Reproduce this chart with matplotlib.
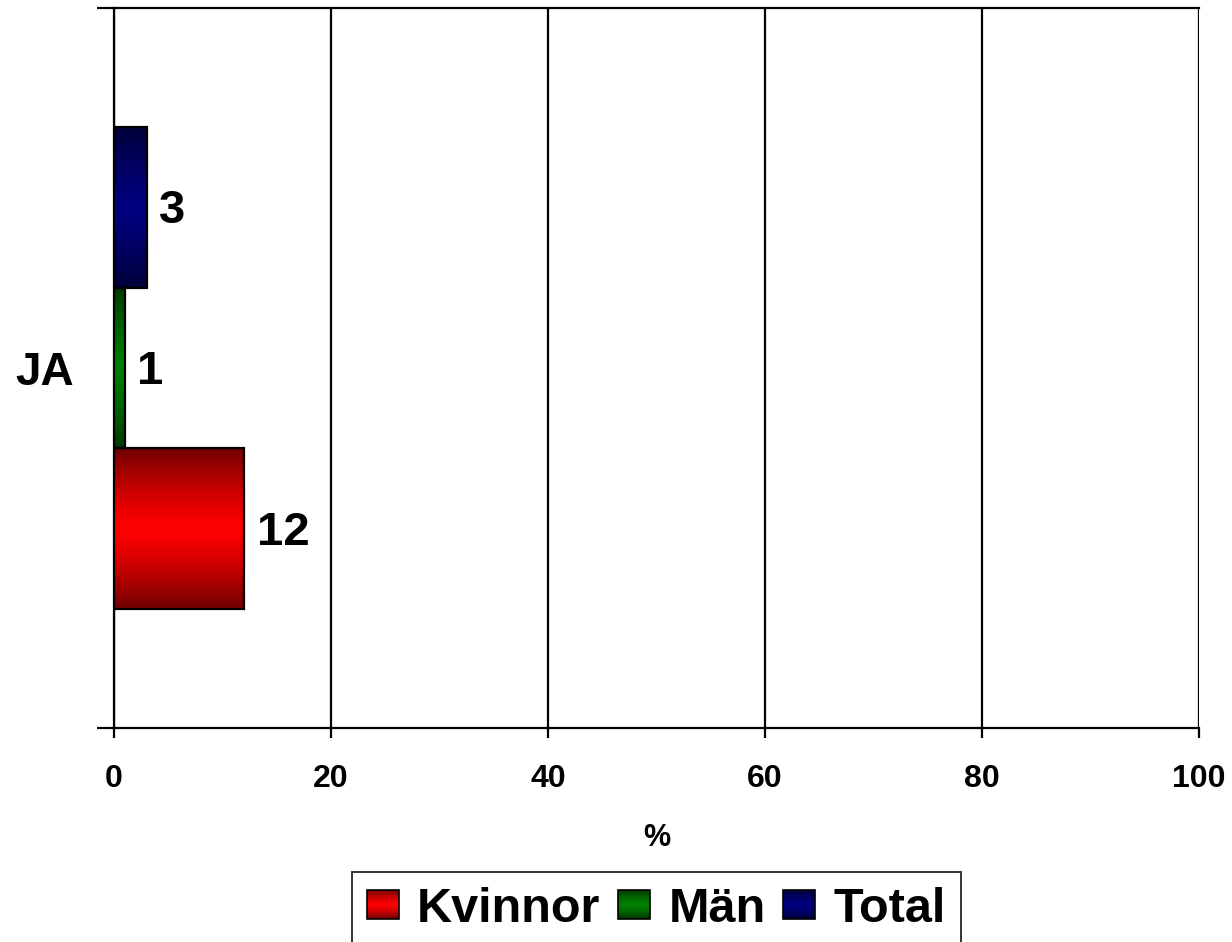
import numpy as np
import matplotlib
matplotlib.use("Agg")
import matplotlib.pyplot as plt
from matplotlib.patches import Rectangle
from matplotlib.legend_handler import HandlerBase

plt.rcParams['font.family'] = ['Liberation Sans', 'DejaVu Sans']
plt.rcParams['font.weight'] = 'bold'

# data
category = "JA"
series = ["Kvinnor", "Män", "Total"]
values = [12, 1, 3]
base_colors = [(1.0, 0.0, 0.0), (0.0, 0.5, 0.0), (0.0, 0.0, 0.5)]
xticks = [0, 20, 40, 60, 80, 100]
xlabel = "%"


def shade(t):
    # dark at the bar edges, full colour through the middle
    return 1.0 - 0.55 * np.abs(2 * t - 1) ** 1.3


def gradient_img(color, n=64):
    t = np.linspace(0, 1, n)
    f = shade(t)[:, None]
    img = np.array(color)[None, :] * f
    return img[:, None, :]


class GradientHandler(HandlerBase):
    def create_artists(self, legend, orig_handle, xdescent, ydescent,
                       width, height, fontsize, trans):
        col = orig_handle.get_gid_color
        n = 12
        arts = []
        for k in range(n):
            t = (k + 0.5) / n
            c = np.array(col) * shade(t)
            r = Rectangle((-xdescent, -ydescent + height * k / n), width, height / n + 0.3,
                          facecolor=c, edgecolor='none', transform=trans)
            arts.append(r)
        frame = Rectangle((-xdescent, -ydescent), width, height, facecolor='none',
                          edgecolor='black', linewidth=1.2, transform=trans)
        arts.append(frame)
        return arts


fig = plt.figure(figsize=(12.32, 9.42), dpi=100)
ax = fig.add_axes([114 / 1232, 1 - 728 / 942, (1199 - 114) / 1232, (728 - 8) / 942])

h = 0.2233
ypos = [-h, 0, h]
bars = ax.barh(ypos, values, height=h, facecolor='none', edgecolor='black',
               linewidth=1.6, zorder=4)

for bar, col in zip(bars, base_colors):
    x0, y0 = bar.get_x(), bar.get_y()
    w, hh = bar.get_width(), bar.get_height()
    im = ax.imshow(gradient_img(col), extent=(x0, x0 + w, y0, y0 + hh),
                   aspect='auto', origin='upper', interpolation='bilinear', zorder=3)
    im.set_clip_path(bar)

for y, v in zip(ypos, values):
    ax.annotate(str(v), (v, y), xytext=(9, -3), textcoords='offset points',
                ha='left', va='center', fontsize=34, fontweight='bold')

ax.set_xlim(0, 100)
ax.set_ylim(-0.5, 0.5)
ax.set_xticks(xticks)
ax.set_xticklabels([str(t) for t in xticks], fontsize=23, fontweight='bold')
ax.tick_params(axis='x', length=7, width=1.6, pad=19)
ax.set_yticks([-0.5, 0.5])
ax.set_yticklabels([])
ax.set_yticks([0], minor=True)
ax.set_yticklabels([category], minor=True, fontsize=33, fontweight='bold')
ax.tick_params(axis='y', which='major', length=12, width=1.6)
ax.tick_params(axis='y', which='minor', length=0, pad=29)
ax.xaxis.grid(True, color='black', linewidth=1.6, zorder=1)
ax.set_axisbelow(True)
ax.set_xlabel(xlabel, fontsize=22, fontweight='bold', labelpad=21)

for s in ['top', 'bottom', 'left']:
    ax.spines[s].set_linewidth(1.6)
ax.spines['right'].set_visible(False)

# legend with shaded swatches
handles = []
for name, col in zip(series, base_colors):
    p = Rectangle((0, 0), 1, 1)
    p.get_gid_color = col
    handles.append(p)
leg = fig.legend(handles, series, loc='upper center', bbox_to_anchor=(656.5 / 1232, 1 - 872 / 942),
                 ncol=3, prop={'weight': 'bold', 'size': 35},
                 handler_map={Rectangle: GradientHandler()},
                 handlelength=0.66, handleheight=0.53, handletextpad=0.38,
                 columnspacing=0.36, borderpad=0.3, borderaxespad=0,
                 fancybox=False, frameon=True)
leg.get_frame().set_edgecolor('black')
leg.get_frame().set_linewidth(1.4)

fig.savefig("out.png", dpi=100)
